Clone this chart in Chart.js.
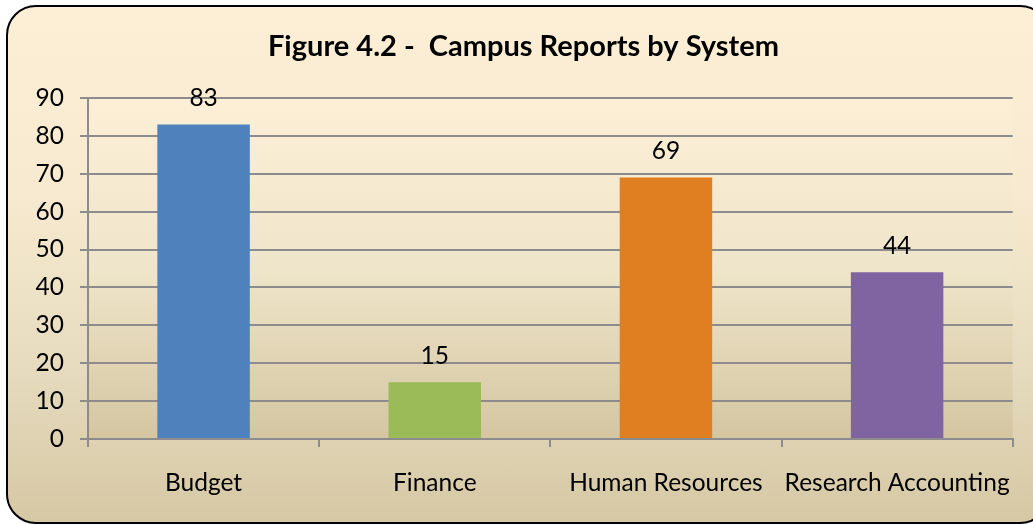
<!DOCTYPE html>
<html>
<head>
<meta charset="utf-8">
<script src="https://cdn.jsdelivr.net/npm/chart.js@4.4.0/dist/chart.umd.min.js"></script>
<style>
html, body { margin: 0; padding: 0; width: 1033px; height: 525px; overflow: hidden; background: #fff; }
#frame {
  position: absolute; left: 6px; top: 5px; width: 1040px; height: 515px;
  border: 2px solid #000; border-radius: 30px;
  background: linear-gradient(to bottom, #fdefd5 0%, #f7ead0 35%, #e6dbbf 70%, #d6c8a4 100%);
}
#wrap { position: absolute; left: 0; top: 0; width: 1033px; height: 525px; }
</style>
</head>
<body>
<div id="frame"></div>
<div id="wrap"><canvas id="chart_bar"></canvas></div>
<script>
var categories = ["Budget", "Finance", "Human Resources", "Research Accounting"]
var reports = [83, 15, 69, 44]
var barColors = ["#4f81bd", "#9bbb59", "#e07e22", "#8064a2"]
var yTicks = [0, 10, 20, 30, 40, 50, 60, 70, 80, 90]
var chartTitle = "Figure 4.2 -  Campus Reports by System"

var fontName = "Lato, 'Open Sans', sans-serif"

// background of the plot area
var plotBg = {
  id: "plotBg",
  beforeDraw: function(chart){
    var a = chart.chartArea, ctx = chart.ctx
    var g = ctx.createLinearGradient(0, a.top, 0, a.bottom)
    g.addColorStop(0, "#fcefd6")
    g.addColorStop(0.5, "#efe5ca")
    g.addColorStop(1, "#d4c6a1")
    ctx.save()
    ctx.fillStyle = g
    ctx.fillRect(a.left, a.top, a.right - a.left, a.bottom - a.top)
    ctx.restore()
  }
}

// title centered on the frame, value labels over bars
var valueLabels = {
  id: "valueLabels",
  afterDraw: function(chart){
    var ctx = chart.ctx
    ctx.save()
    ctx.fillStyle = "#000"
    ctx.textAlign = "center"
    ctx.textBaseline = "middle"
    ctx.font = "bold 29px " + fontName
    ctx.fillText(chartTitle, chart.width / 2 + 7, 47)
    ctx.font = "24.5px " + fontName
    var meta = chart.getDatasetMeta(0)
    meta.data.forEach(function(bar, i){
      ctx.fillText(chart.data.datasets[0].data[i], bar.x, bar.y - 26)
    })
    ctx.restore()
  }
}

var ctx = document.getElementById("chart_bar")
var myChart = new Chart(ctx, {
  type: "bar",
  data: {
    labels: categories,
    datasets: [{
      label: "Reports",
      data: reports,
      backgroundColor: barColors,
      categoryPercentage: 1,
      barPercentage: 0.4
    }]
  },
  options: {
    responsive: true,
    maintainAspectRatio: false,
    animation: false,
    layout: { padding: { top: 98, right: 19, left: 0, bottom: 0 } },
    plugins: {
      legend: { display: false },
      tooltip: { enabled: false },
      title: { display: false }
    },
    scales: {
      x: {
        grid: { display: true, drawOnChartArea: false, color: "#8c8c8c", lineWidth: 2, tickLength: 8, offset: true },
        border: { color: "#8c8c8c", width: 2 },
        ticks: { color: "#000", font: { family: fontName, size: 24.5 }, padding: 21, maxRotation: 0 },
        afterFit: function(s){ s.height = 86 }
      },
      y: {
        min: 0, max: 90,
        afterBuildTicks: function(s){ s.ticks = yTicks.map(function(v){ return { value: v } }) },
        grid: { color: "#8c8c8c", lineWidth: 2, tickLength: 8 },
        border: { color: "#8c8c8c", width: 2 },
        ticks: { color: "#000", font: { family: fontName, size: 24.5 }, padding: 16 },
        afterFit: function(s){ s.width = 88 }
      }
    }
  },
  plugins: [plotBg, valueLabels]
})
</script>
</body>
</html>
